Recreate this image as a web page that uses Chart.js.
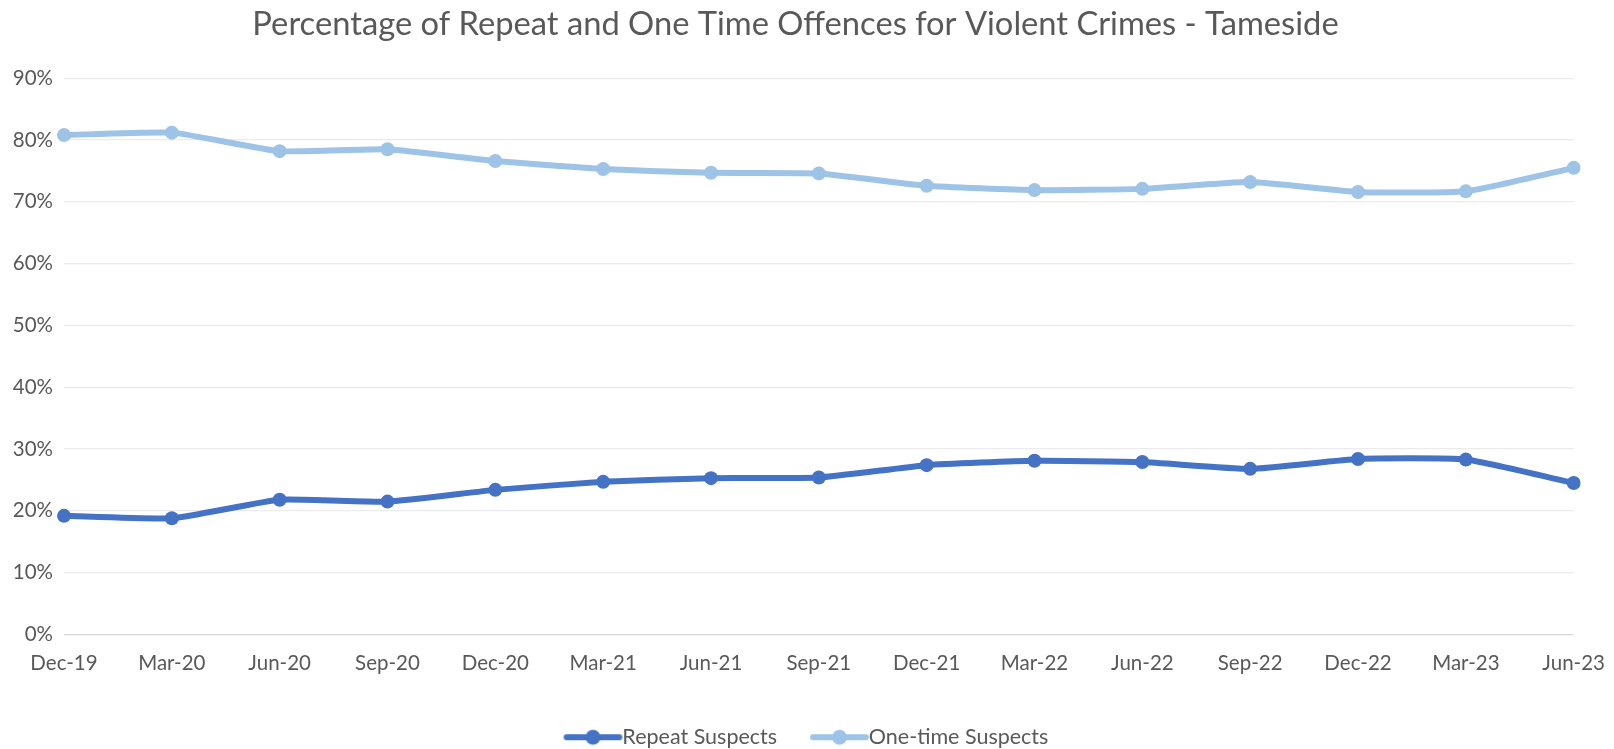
<!DOCTYPE html>
<html>
<head>
<meta charset="utf-8">
<script src="https://cdn.jsdelivr.net/npm/chart.js@4/dist/chart.umd.min.js"></script>
<style>
  html, body { margin: 0; padding: 0; background: #fff; }
  #wrap { width: 1614px; height: 749px; }
</style>
</head>
<body>
<div id="wrap"><canvas id="chart"></canvas></div>
<script>
const CHART_TITLE = "Percentage of Repeat and One Time Offences for Violent Crimes - Tameside";

const quarters = [
  "Dec-19", "Mar-20", "Jun-20", "Sep-20", "Dec-20", "Mar-21", "Jun-21", "Sep-21",
  "Dec-21", "Mar-22", "Jun-22", "Sep-22", "Dec-22", "Mar-23", "Jun-23",
];

const repeatSuspects = [19.2, 18.8, 21.8, 21.5, 23.4, 24.7, 25.3, 25.4, 27.4, 28.1, 27.9, 26.8, 28.4, 28.3, 24.5];
const oneTimeSuspects = [80.8, 81.2, 78.2, 78.5, 76.6, 75.3, 74.7, 74.6, 72.6, 71.9, 72.1, 73.2, 71.6, 71.7, 75.5];

const yTicks = [0, 10, 20, 30, 40, 50, 60, 70, 80, 90];

const FONT = "Lato, 'Open Sans', sans-serif";
const TEXT_COLOR = "#595959";
const REPEAT_COLOR = "#4472c4";
const ONE_TIME_COLOR = "#9dc3e6";
const TICK_SIZE = 20.5;
const LEGEND_SIZE = 21.5;
const LEGEND_GAP = 33; // blank space before each legend marker
const LEGEND_LINE = 48;
const LEGEND_BOX = LEGEND_GAP + LEGEND_LINE;

// legend marker: blank gap, then a line with a dot running up to the text
// (Chart.js centres the image on the box, so the canvas is padded by k)
const makeLegendIcon = (color) => {
  const k = 12;
  const c = document.createElement("canvas");
  c.width = LEGEND_BOX + 2 * k;
  c.height = 18;
  const ctx = c.getContext("2d");
  const a = k + LEGEND_GAP + 3;
  const b = k + LEGEND_BOX + LEGEND_SIZE / 2 - 3;
  ctx.strokeStyle = color;
  ctx.lineWidth = 6;
  ctx.lineCap = "round";
  ctx.beginPath();
  ctx.moveTo(a, 9);
  ctx.lineTo(b, 9);
  ctx.stroke();
  ctx.fillStyle = color;
  ctx.beginPath();
  ctx.arc((a + b) / 2, 9, 7.5, 0, Math.PI * 2);
  ctx.fill();
  return c;
};

// Excel centres title and legend a little to the right of the canvas middle
const blockNudge = {
  id: "blockNudge",
  afterLayout(chart) {
    const lg = chart.legend;
    lg.left += 2;
    lg.right += 2;
    lg.top += 9;
    lg.bottom += 9;
    const tb = chart.titleBlock;
    tb.left += 8;
    tb.right += 8;
  },
};

const makeSeries = (name, data, color) => ({
  label: name,
  data,
  borderColor: color,
  backgroundColor: color,
  borderWidth: 6,
  pointRadius: 7,
  pointHoverRadius: 7,
  pointBackgroundColor: color,
  pointBorderWidth: 0,
  tension: 0.15,
  legendIcon: makeLegendIcon(color),
});

new Chart(document.getElementById("chart"), {
  type: "line",
  data: {
    labels: quarters,
    datasets: [
      makeSeries("Repeat Suspects", repeatSuspects, REPEAT_COLOR),
      makeSeries("One-time Suspects", oneTimeSuspects, ONE_TIME_COLOR),
    ],
  },
  plugins: [blockNudge],
  options: {
    responsive: true,
    maintainAspectRatio: false,
    animation: false,
    layout: { padding: { left: 0, right: 39, top: 0, bottom: 0 } },
    plugins: {
      title: {
        display: true,
        text: CHART_TITLE,
        color: TEXT_COLOR,
        font: { family: FONT, size: 32.7, weight: "normal" },
        padding: { top: 5, bottom: 34 },
      },
      legend: {
        position: "bottom",
        labels: {
          color: TEXT_COLOR,
          font: { family: FONT, size: LEGEND_SIZE },
          usePointStyle: true,
          pointStyleWidth: LEGEND_BOX,
          padding: 0,
          generateLabels: (chart) =>
            chart.data.datasets.map((ds, i) => ({
              text: ds.label,
              fillStyle: ds.borderColor,
              strokeStyle: ds.borderColor,
              lineWidth: 0,
              pointStyle: ds.legendIcon,
              fontColor: TEXT_COLOR,
              hidden: false,
              datasetIndex: i,
            })),
        },
      },
      tooltip: { enabled: false },
    },
    scales: {
      x: {
        offset: false,
        grid: { display: false },
        border: { display: false },
        ticks: {
          color: TEXT_COLOR,
          font: { family: FONT, size: TICK_SIZE },
          padding: 9,
          maxRotation: 0,
          autoSkip: false,
        },
        afterFit: (axis) => { axis.height = 83; },
      },
      y: {
        min: 0,
        max: 90,
        afterBuildTicks: (axis) => { axis.ticks = yTicks.map((v) => ({ value: v })); },
        grid: {
          color: (ctx) => (ctx.tick && ctx.tick.value === 0 ? "#d9d9d9" : "#ebebeb"),
          lineWidth: 1.2,
          drawTicks: false,
        },
        border: { display: false },
        ticks: {
          color: TEXT_COLOR,
          font: { family: FONT, size: TICK_SIZE },
          padding: 11,
          callback: (v) => v + "%",
        },
        afterFit: (axis) => { axis.width = 64; },
      },
    },
  },
});
</script>
</body>
</html>
